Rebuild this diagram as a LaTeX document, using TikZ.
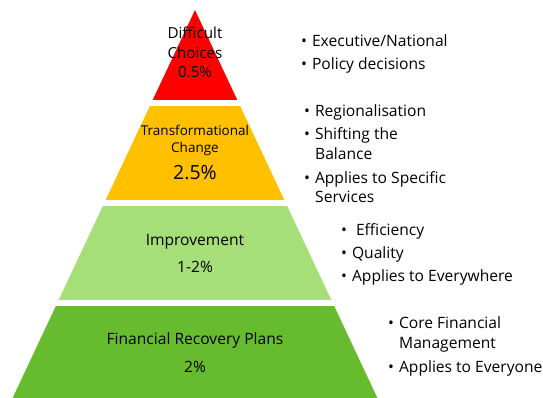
\documentclass[tikz,border=0pt]{standalone}
\usepackage{fontspec}
\setmainfont{Open Sans}
\definecolor{peakred}{HTML}{FF0000}
\definecolor{changeamber}{HTML}{FFC000}
\definecolor{improvegreen}{HTML}{A6DF78}
\definecolor{recoverygreen}{HTML}{66BB2E}
\begin{document}
\begin{tikzpicture}[x=1pt,y=-1pt,
  level/.style={anchor=base,inner sep=0pt,font=\fontsize{15.6}{18}\selectfont},
  point/.style={anchor=base west,inner sep=0pt,font=\fontsize{15.6}{18}\selectfont}]
\useasboundingbox (0,0) rectangle (543,398);

% the four bands, cut out of one triangle
\begin{scope}
\clip (195,10) -- (12.6,398) -- (377.4,398) -- cycle;
\fill[peakred] (0,0) rectangle (543,100);
\fill[changeamber] (0,106) rectangle (543,200);
\fill[improvegreen] (0,206) rectangle (543,300);
\fill[recoverygreen] (0,306) rectangle (543,398);
\end{scope}

\node[level,font=\fontsize{15.2}{18}\selectfont] (difficult) at (195,39) {Difficult};
\node[level,font=\fontsize{15.2}{18}\selectfont] (choices) at (195,59) {Choices};
\node[level,font=\fontsize{15.2}{18}\selectfont] (half) at (195,78) {0.5\%};

\node[level,font=\fontsize{13.5}{16}\selectfont] (transform) at (195,136) {Transformational};
\node[level,font=\fontsize{13.5}{16}\selectfont] (change) at (195,153) {Change};
\node[level,font=\fontsize{19.5}{22}\selectfont] (twohalf) at (195,180) {2.5\%};

\node[level] (improve) at (195,245) {Improvement};
\node[level] (onetwo) at (195,272) {1-2\%};

\node[level] (recovery) at (195,344) {Financial Recovery Plans};
\node[level] (two) at (195,372) {2\%};

% bullet points beside each band
\node[point] (exec) at (301,47) {\textbullet\hspace{5pt}Executive/National};
\node[point] (policy) at (301,70) {\textbullet\hspace{5pt}Policy decisions};

\node[point] (region) at (304,117) {\textbullet\hspace{5pt}Regionalisation};
\node[point] (shift) at (304,140) {\textbullet\hspace{5pt}Shifting the};
\node[point] (balance) at (315,160) {Balance};
\node[point] (specific) at (304,183) {\textbullet\hspace{5pt}Applies to Specific};
\node[point] (services) at (315,203) {Services};

\node[point] (efficiency) at (341,235) {\textbullet\hspace{9pt}Efficiency};
\node[point] (quality) at (341,258) {\textbullet\hspace{5pt}Quality};
\node[point] (everywhere) at (341,281) {\textbullet\hspace{5pt}Applies to Everywhere};

\node[point] (core) at (388,328) {\textbullet\hspace{5pt}Core Financial};
\node[point] (manage) at (399,348) {Management};
\node[point] (everyone) at (388,372) {\textbullet\hspace{5pt}Applies to Everyone};
\end{tikzpicture}
\end{document}
